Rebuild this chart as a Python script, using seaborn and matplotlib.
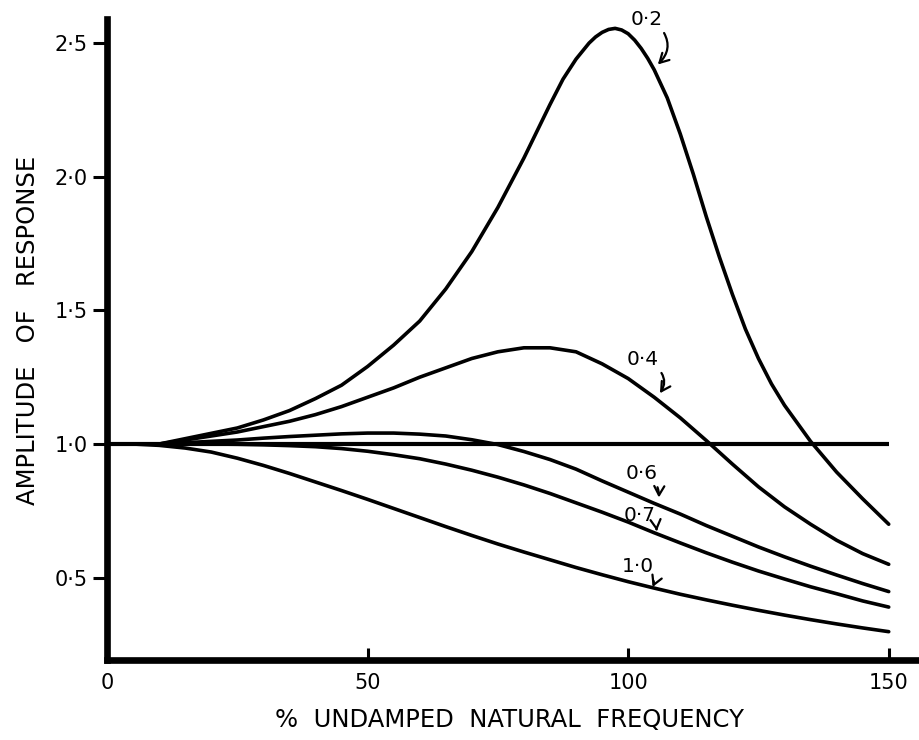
import matplotlib
matplotlib.use("Agg")
import matplotlib.pyplot as plt
import seaborn as sns
import pandas as pd

# Frequency as % of the undamped natural frequency
freq = [0, 5, 10, 15, 20, 25, 30, 35, 40, 45, 50, 55, 60, 65, 70, 75,
        80, 85, 90, 95, 100, 105, 110, 115, 120, 125, 130, 135, 140, 145, 150]

# Lightly damped curve is sampled more finely round its peak
freq_02 = [0, 5, 10, 15, 20, 25, 30, 35, 40, 45, 50, 55, 60, 65, 70, 75, 80,
           82.5, 85, 87.5, 90, 92.5, 93.75, 95, 96.25, 97.5, 98.75, 100,
           101.25, 102.5, 103.75, 105, 107.5, 110, 112.5, 115, 117.5, 120,
           122.5, 125, 127.5, 130, 135, 140, 145, 150]
amp_02 = [1.00, 1.00, 1.00, 1.02, 1.04, 1.06, 1.09, 1.125, 1.17, 1.22, 1.29,
          1.37, 1.46, 1.58, 1.72, 1.885, 2.07, 2.17, 2.27, 2.365, 2.44, 2.50,
          2.523, 2.54, 2.551, 2.555, 2.549, 2.535, 2.511, 2.48, 2.443, 2.40,
          2.295, 2.16, 2.01, 1.85, 1.70, 1.56, 1.43, 1.32, 1.225, 1.145,
          1.01, 0.895, 0.795, 0.70]

amp_04 = [1.00, 1.00, 1.00, 1.015, 1.03, 1.045, 1.065, 1.085, 1.11, 1.14, 1.175,
          1.21, 1.25, 1.285, 1.32, 1.345, 1.36, 1.36, 1.345, 1.30, 1.245, 1.175,
          1.098, 1.013, 0.925, 0.84, 0.765, 0.70, 0.64, 0.59, 0.55]

amp_06 = [1.00, 1.00, 1.00, 1.005, 1.01, 1.015, 1.022, 1.028, 1.033, 1.038, 1.041,
          1.041, 1.037, 1.03, 1.016, 0.998, 0.972, 0.942, 0.906, 0.862, 0.82,
          0.778, 0.738, 0.695, 0.655, 0.615, 0.578, 0.543, 0.51, 0.478, 0.448]

amp_07 = [1.00, 1.00, 1.00, 1.00, 1.00, 0.999, 0.997, 0.994, 0.99, 0.983, 0.973,
          0.96, 0.945, 0.925, 0.902, 0.876, 0.847, 0.815, 0.78, 0.745, 0.708,
          0.668, 0.63, 0.593, 0.558, 0.525, 0.495, 0.466, 0.44, 0.413, 0.39]

amp_10 = [1.00, 1.00, 0.995, 0.985, 0.97, 0.947, 0.92, 0.89, 0.858, 0.826, 0.793,
          0.759, 0.725, 0.691, 0.658, 0.626, 0.596, 0.567, 0.538, 0.511, 0.485,
          0.461, 0.438, 0.417, 0.397, 0.378, 0.36, 0.343, 0.327, 0.312, 0.298]

# Reference level of unit amplitude
ref_freq = [0, 150]
ref_amp = [1.0, 1.0]

damping_labels = ["0·2", "0·4", "0·6", "0·7", "1·0"]
# (text position, arrow tip) for each damping label
label_text_pos = [(103.6, 2.59), (102.8, 1.318), (102.6, 0.891), (102.2, 0.734), (101.9, 0.54)]
label_tip_pos = [(105.7, 2.42), (106.1, 1.19), (105.9, 0.80), (105.5, 0.675), (104.7, 0.465)]
label_rad = [-0.45, -0.45, -0.15, -0.2, -0.3]

x_ticks = [0, 50, 100, 150]
x_tick_labels = ["0", "50", "100", "150"]
y_ticks = [0.5, 1.0, 1.5, 2.0, 2.5]
y_tick_labels = ["0·5", "1·0", "1·5", "2·0", "2·5"]

sns.set_theme(style="white")
plt.rcParams["font.family"] = ["DejaVu Sans"]

fig = plt.figure(figsize=(9.2, 7.4), dpi=100)
ax = fig.add_axes([0.1163, 0.1081, 0.8837, 0.8662])

curves = pd.concat([
    pd.DataFrame({"freq": freq_02, "amp": amp_02, "zeta": "0.2"}),
    pd.DataFrame({"freq": freq, "amp": amp_04, "zeta": "0.4"}),
    pd.DataFrame({"freq": freq, "amp": amp_06, "zeta": "0.6"}),
    pd.DataFrame({"freq": freq, "amp": amp_07, "zeta": "0.7"}),
    pd.DataFrame({"freq": freq, "amp": amp_10, "zeta": "1.0"}),
])

sns.lineplot(data=curves, x="freq", y="amp", units="zeta", estimator=None,
             color="black", lw=2.6, ax=ax, legend=False,
             solid_joinstyle="round", solid_capstyle="round")
sns.lineplot(x=ref_freq, y=ref_amp, color="black", lw=3.0, ax=ax,
             legend=False, solid_capstyle="butt")

for lab, tpos, tip, rad in zip(damping_labels, label_text_pos, label_tip_pos, label_rad):
    ax.annotate(lab, xy=tip, xytext=tpos, ha="center", va="center",
                fontsize=14.5, color="black",
                arrowprops=dict(arrowstyle="->,head_length=0.45,head_width=0.25",
                                connectionstyle=f"arc3,rad={rad}",
                                color="black", lw=1.6, relpos=(0.9, 0.1),
                                shrinkA=1, shrinkB=0))

ax.set_xlim(0, 156)
ax.set_ylim(0.192, 2.59)
ax.set_xticks(x_ticks)
ax.set_xticklabels(x_tick_labels)
ax.set_yticks(y_ticks)
ax.set_yticklabels(y_tick_labels)
ax.set_xlabel("")
ax.set_ylabel("")

for side in ["top", "right"]:
    ax.spines[side].set_visible(False)
for side in ["left", "bottom"]:
    ax.spines[side].set_linewidth(4.8)
    ax.spines[side].set_color("black")
    ax.spines[side].set_capstyle("projecting")

ax.tick_params(axis="y", direction="out", length=10, width=2.2, pad=4,
               labelsize=15, colors="black", left=True)
ax.tick_params(axis="x", direction="in", length=9, width=2.2, pad=9,
               labelsize=15, colors="black", bottom=True)

fig.text(28 / 920, 1 - 330 / 740, "AMPLITUDE   OF   RESPONSE", rotation=90,
         ha="center", va="center", fontsize=17.5, color="black")
fig.text(510 / 920, 1 - 720 / 740, "%  UNDAMPED  NATURAL  FREQUENCY",
         ha="center", va="center", fontsize=17.5, color="black")

fig.savefig("out.png", dpi=100, facecolor="white")
